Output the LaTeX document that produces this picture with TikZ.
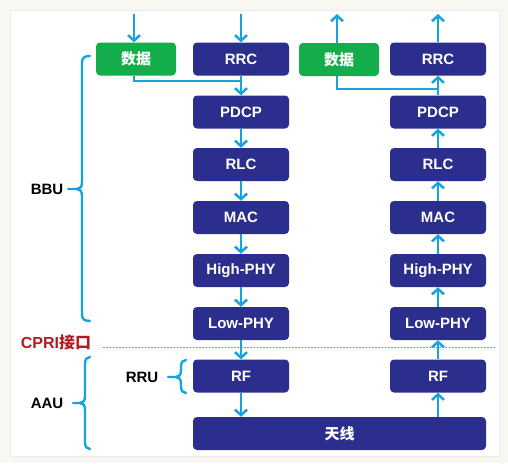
\documentclass[tikz,border=0pt]{standalone}
\usepackage{fontspec}
\setmainfont{Liberation Sans}
\newfontfamily\cjk{Noto Sans CJK SC}
\usetikzlibrary{arrows.meta,calc}
\definecolor{navy}{HTML}{2C2E8E}
\definecolor{grn}{HTML}{13AE4B}
\definecolor{cyn}{HTML}{17A3DD}
\definecolor{dred}{HTML}{B01C24}
\definecolor{bgout}{HTML}{F8F7F2}
\definecolor{dashc}{HTML}{35BFD0}
\tikzset{
  blk/.style={rectangle, rounded corners=4pt, fill=navy, text=white, minimum width=96pt, minimum height=33pt, inner sep=0pt, font=\fontsize{15}{17}\selectfont\bfseries},
  gblk/.style={blk, fill=grn, minimum width=80pt, font=\fontsize{15}{17}\selectfont\cjk\bfseries},
  arr/.style={draw=cyn, line width=2.8pt, -{Straight Barb[length=5.5pt,width=12pt,line width=2.5pt]}},
  ln/.style={draw=cyn, line width=2.8pt},
  brc/.style={draw=cyn, line width=2.4pt, line cap=round},
  lbl/.style={font=\fontsize{15}{17}\selectfont\bfseries, text=black}
}
\newcommand\cbrace[6]{% #1 xend, #2 xspine, #3 ytop, #4 ymid, #5 ybot, #6 xtip
  \draw[brc] (#1,#3) .. controls ({#2+2},#3) and (#2,{#3+2}) .. (#2,{#3+7}) -- (#2,{#4-7}) .. controls (#2,{#4-2}) and ({#2-2},#4) .. ({#2-5},#4) -- (#6,#4);
  \draw[brc] ({#2-5},#4) .. controls ({#2-2},#4) and (#2,{#4+2}) .. (#2,{#4+7}) -- (#2,{#5-7}) .. controls (#2,{#5-2}) and ({#2+2},#5) .. (#1,#5);}
\begin{document}
\begin{tikzpicture}[x=1pt,y=-1pt]
\useasboundingbox (0,0) rectangle (508,463);
\fill[bgout] (0,0) rectangle (508,463);
\fill[white, draw=black!8, line width=0.5pt] (10,10) rectangle (499,456);
% left column
\node[gblk] (g1) at (136,59) {数据};
\node[blk] (rrc1) at (241,59) {RRC};
\node[blk] (pdcp1) at (241,112) {PDCP};
\node[blk] (rlc1) at (241,164.5) {RLC};
\node[blk] (mac1) at (241,217.5) {MAC};
\node[blk] (hphy1) at (241,270.5) {High-PHY};
\node[blk] (lphy1) at (241,323.5) {Low-PHY};
\node[blk] (rf1) at (241,376) {RF};
% right column
\node[gblk] (g2) at (339,59.5) {数据};
\node[blk] (rrc2) at (438,59) {RRC};
\node[blk] (pdcp2) at (438,112) {PDCP};
\node[blk] (rlc2) at (438,164.5) {RLC};
\node[blk] (mac2) at (438,217.5) {MAC};
\node[blk] (hphy2) at (438,270.5) {High-PHY};
\node[blk] (lphy2) at (438,323.5) {Low-PHY};
\node[blk] (rf2) at (438,376) {RF};
% antenna
\node[blk, minimum width=293pt, font=\fontsize{15}{17}\selectfont\cjk\bfseries] (ant) at (339.5,433.5) {天线};
% free ends
\coordinate (in1) at (134,14);
\coordinate (in2) at (241,14);
\coordinate (out1) at (337,14);
\coordinate (out2) at (438,14);
\coordinate (j1) at (241,81);
\coordinate (j2) at (438,89);
% downlink arrows
\draw[arr] (in1) -- (in1 |- g1.north);
\draw[arr] (in2) -- (rrc1.north);
\draw[arr] (rrc1) -- (pdcp1);
\draw[ln] (in1 |- g1.south) |- (j1);
\draw[arr] (pdcp1) -- (rlc1);
\draw[arr] (rlc1) -- (mac1);
\draw[arr] (mac1) -- (hphy1);
\draw[arr] (hphy1) -- (lphy1);
\draw[arr] (lphy1) -- (rf1);
\draw[arr] (rf1) -- (rf1 |- ant.north);
% uplink arrows
\draw[arr] (rf2 |- ant.north) -- (rf2);
\draw[arr] (rf2) -- (lphy2);
\draw[arr] (lphy2) -- (hphy2);
\draw[arr] (hphy2) -- (mac2);
\draw[arr] (mac2) -- (rlc2);
\draw[arr] (rlc2) -- (pdcp2);
\draw[arr] (pdcp2) -- (rrc2);
\draw[ln] (out1 |- g2.south) |- (j2);
\draw[arr] (out1 |- g2.north) -- (out1);
\draw[arr] (rrc2) -- (out2);
% CPRI dashed line
\coordinate (d1) at (103,347);
\coordinate (d2) at (495,347);
\draw[dashc, line width=1pt, dash pattern=on 2pt off 1.2pt] (d1) -- (d2);
\node[font=\fontsize{16}{18}\selectfont\bfseries, text=dred] (cpri) at (56,342) {CPRI{\cjk 接口}};
% braces
\cbrace{90}{82}{56}{189}{321}{68}
\node[lbl] (bbu) at (47,189) {BBU};
\cbrace{90}{85}{357}{403}{449}{73}
\node[lbl] (aau) at (47,403) {AAU};
\cbrace{186}{181}{360}{377}{393}{168}
\node[lbl] (rru) at (142,377) {RRU};
\end{tikzpicture}
\end{document}
